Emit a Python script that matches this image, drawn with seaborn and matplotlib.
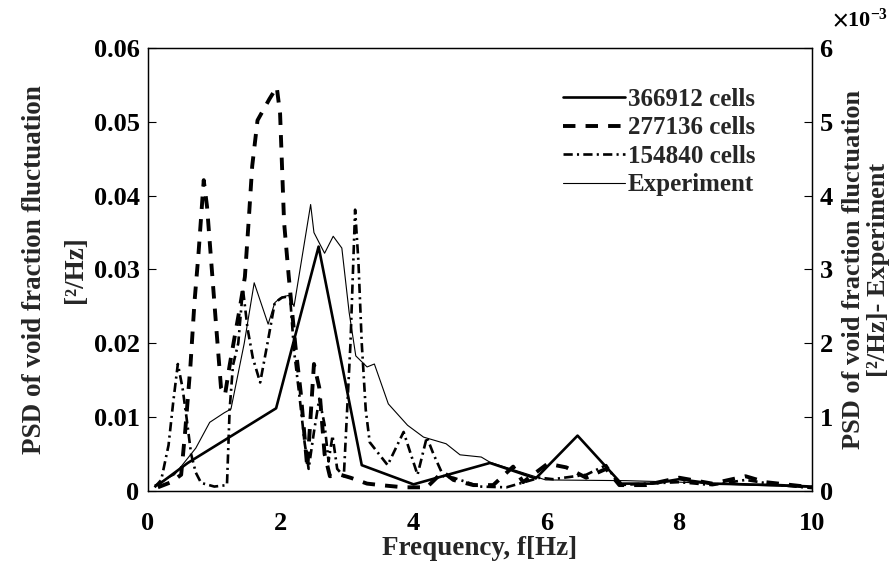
import numpy as np
import pandas as pd
import matplotlib
matplotlib.use("Agg")
import matplotlib.pyplot as plt
import matplotlib.transforms as mtransforms
from matplotlib.ticker import ScalarFormatter, MultipleLocator
import seaborn as sns

# ---------------- data ----------------
f_366912 = [0.15, 0.60, 1.93, 2.57, 3.22, 4.00, 5.15, 5.84, 6.47, 7.13, 7.60, 8.00, 8.50, 9.00, 9.50, 10.0]
p_366912 = [0.0008, 0.0038, 0.0112, 0.0331, 0.0035, 0.0009, 0.0038, 0.0017, 0.0075, 0.0010,
            0.0010, 0.0016, 0.0010, 0.0009, 0.0008, 0.0006]

f_277136 = [0.15, 0.35, 0.50, 0.56, 0.64, 0.70, 0.76, 0.84, 0.89, 0.95, 1.03, 1.10, 1.16, 1.23,
            1.30, 1.38, 1.46, 1.52, 1.57, 1.65, 1.83, 1.94, 1.99, 2.05, 2.12, 2.22, 2.30, 2.40,
            2.50, 2.58, 2.66, 2.74, 2.90, 3.05, 3.30, 3.50, 3.85, 4.20, 4.44, 4.60, 4.90, 5.20,
            5.50, 5.65, 6.02, 6.30, 6.60, 6.90, 7.10, 7.50, 8.00, 8.50, 9.00, 9.30, 10.0]
p_277136 = [0.0005, 0.0012, 0.0022, 0.0080, 0.0170, 0.0255, 0.0320, 0.0421, 0.0385, 0.0314,
            0.0220, 0.0140, 0.0130, 0.0170, 0.0206, 0.0246, 0.0290, 0.0370, 0.0440, 0.0502,
            0.0531, 0.0547, 0.0511, 0.0364, 0.0291, 0.0197, 0.0134, 0.0031, 0.0172, 0.0140,
            0.0050, 0.0020, 0.0022, 0.0018, 0.0010, 0.0008, 0.0005, 0.0005, 0.0026, 0.0015,
            0.0008, 0.0008, 0.0033, 0.0012, 0.0037, 0.0032, 0.0018, 0.0030, 0.0008, 0.0008,
            0.0018, 0.0010, 0.0020, 0.0012, 0.0005]

f_154840 = [0.10, 0.20, 0.31, 0.38, 0.45, 0.52, 0.58, 0.65, 0.72, 0.80, 1.00, 1.19, 1.23, 1.28,
            1.36, 1.43, 1.50, 1.58, 1.69, 1.80, 1.91, 2.02, 2.14, 2.20, 2.28, 2.36, 2.42, 2.50,
            2.58, 2.66, 2.72, 2.78, 2.85, 2.95, 3.05, 3.12, 3.17, 3.22, 3.28, 3.34, 3.61, 3.85,
            4.06, 4.20, 4.30, 4.45, 4.60, 5.00, 5.40, 5.90, 6.10, 6.60, 6.90, 7.10, 7.50, 8.00,
            8.50, 9.00, 9.50, 10.0]
p_154840 = [0.0005, 0.0015, 0.0062, 0.0120, 0.0172, 0.0140, 0.0100, 0.0050, 0.0025, 0.0011,
            0.0006, 0.0008, 0.0110, 0.0170, 0.0200, 0.0274, 0.0220, 0.0180, 0.0147, 0.0200,
            0.0255, 0.0262, 0.0264, 0.0190, 0.0130, 0.0065, 0.0030, 0.0080, 0.0125, 0.0090,
            0.0040, 0.0075, 0.0030, 0.0020, 0.0200, 0.0381, 0.0310, 0.0200, 0.0110, 0.0066,
            0.0035, 0.0080, 0.0022, 0.0073, 0.0050, 0.0020, 0.0018, 0.0006, 0.0005, 0.0018,
            0.0016, 0.0022, 0.0035, 0.0008, 0.0010, 0.0012, 0.0008, 0.0015, 0.0008, 0.0004]

# Experiment, right axis
f_exp = [0.10, 0.40, 0.72, 0.93, 1.15, 1.25, 1.45, 1.60, 1.81, 1.91, 2.00, 2.12, 2.20, 2.45,
         2.50, 2.66, 2.79, 2.92, 3.03, 3.13, 3.30, 3.41, 3.62, 3.91, 4.15, 4.49, 4.70, 5.02,
         5.15, 5.99, 7.20, 8.00, 9.00, 10.0]
p_exp = [0.00008, 0.00022, 0.00058, 0.00093, 0.00106, 0.00111, 0.00200, 0.00282, 0.00226,
         0.00255, 0.00262, 0.00265, 0.00250, 0.00388, 0.00350, 0.00322, 0.00345, 0.00329,
         0.00242, 0.00183, 0.00168, 0.00172, 0.00118, 0.00089, 0.00073, 0.00064, 0.00049,
         0.00046, 0.00039, 0.00015, 0.00014, 0.00012, 0.00008, 0.00005]

labels = ["366912 cells", "277136 cells", "154840 cells", "Experiment"]
x_ticks = [0, 2, 4, 6, 8, 10]
y_ticks = [0, 0.01, 0.02, 0.03, 0.04, 0.05, 0.06]

# ---------------- style ----------------
sns.set_style("white")
plt.rcParams["font.family"] = ["Liberation Serif", "DejaVu Serif"]
plt.rcParams["font.weight"] = "bold"
plt.rcParams["mathtext.fontset"] = "stix"
plt.rcParams["xtick.direction"] = "in"
plt.rcParams["ytick.direction"] = "in"

FS_TICK = 19
FS_LAB = 19.5

fig = plt.figure(figsize=(8.94, 5.74), dpi=100)
ax = fig.add_axes([0.1655, 0.1446, 0.7427, 0.7718])
ax2 = ax.twinx()

df1 = pd.DataFrame({"f": f_366912, "p": p_366912})
df2 = pd.DataFrame({"f": f_277136, "p": p_277136})
df3 = pd.DataFrame({"f": f_154840, "p": p_154840})
dfe = pd.DataFrame({"f": f_exp, "p": p_exp})

kw = dict(x="f", y="p", color="black", sort=False, estimator=None, legend=False)
sns.lineplot(data=df1, ax=ax, linewidth=1.9, linestyle="-", **kw)
sns.lineplot(data=df2, ax=ax, linewidth=2.8, linestyle=(0, (3.2, 2.6)), **kw)
sns.lineplot(data=df3, ax=ax, linewidth=1.9, linestyle=(0, (3.5, 1.6, 0.8, 1.6)), **kw)
sns.lineplot(data=dfe, ax=ax2, linewidth=0.8, linestyle="-", **kw)

ax.set_xlim(0, 10)
ax.set_ylim(0, 0.06)
ax2.set_ylim(0, 0.006)
ax.set_xticks(x_ticks)
ax.set_xticklabels([str(t) for t in x_ticks])
ax.set_yticks(y_ticks)
ax.set_yticklabels(["0"] + [f"{t:.2f}" for t in y_ticks[1:]])
ax2.yaxis.set_major_locator(MultipleLocator(0.001))
fmt = ScalarFormatter(useMathText=True)
fmt.set_powerlimits((-3, -3))
ax2.yaxis.set_major_formatter(fmt)

for a in (ax, ax2):
    for s in a.spines.values():
        s.set_color("black")
        s.set_linewidth(0.9)
    a.tick_params(labelsize=FS_TICK, length=6, width=0.8, colors="black")
    for lab in a.get_xticklabels() + a.get_yticklabels():
        lab.set_fontweight("bold")
ax.tick_params(axis="x", pad=15)
ax.tick_params(axis="y", pad=6)
ax2.tick_params(axis="y", pad=5)
off = ax2.yaxis.get_offset_text()
off.set_fontsize(16)
off.set_horizontalalignment("left")
off.set_x(1.03)
off.set_transform(mtransforms.blended_transform_factory(
    ax2.transAxes, mtransforms.Affine2D().translate(0, 18)))

ax.set_xlabel("Frequency, f[Hz]", fontsize=FS_LAB, fontweight="bold", labelpad=1)
ax.set_ylabel("PSD of void fraction fluctuation\n[²/Hz]", fontsize=FS_LAB,
              fontweight="bold", labelpad=4, linespacing=1.85)
ax2.set_ylabel("PSD of void fraction fluctuation\n[²/Hz]- Experiment", fontsize=19,
               fontweight="bold", rotation=90, labelpad=6, linespacing=1.12)

handles = [ax.lines[0], ax.lines[1], ax.lines[2], ax2.lines[0]]
leg = ax2.legend(handles, labels, loc="upper right", bbox_to_anchor=(0.915, 0.91),
                 frameon=False, fontsize=18, handlelength=2.5, handletextpad=0.1,
                 labelspacing=0.22, borderaxespad=0.0, borderpad=0.0)
for t in leg.get_texts():
    t.set_fontweight("bold")

fig.savefig("out.png", dpi=100)
